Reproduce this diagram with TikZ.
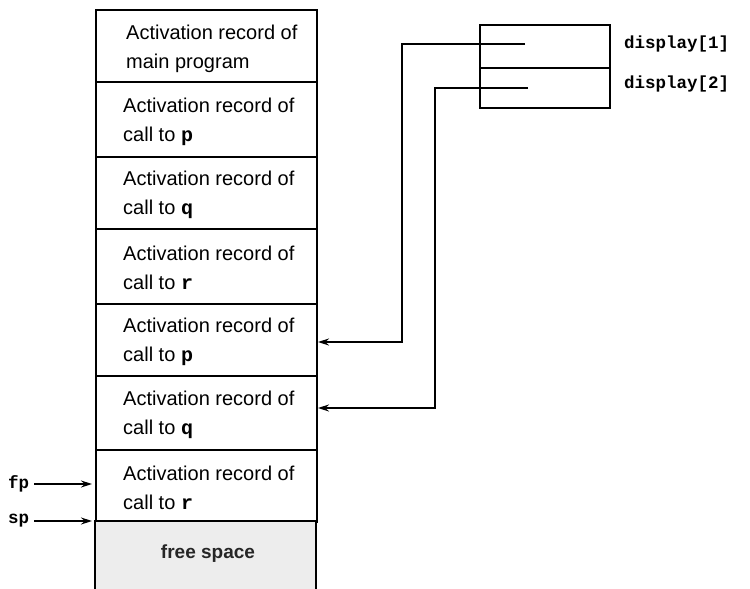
\documentclass[tikz,border=0pt]{standalone}
\usepackage{fontspec}
\setmainfont{Liberation Sans}
\setmonofont{Liberation Mono}
\usetikzlibrary{arrows.meta}
\begin{document}
\begin{tikzpicture}[x=1pt,y=-1pt,
  cell/.style={draw, line width=1.5pt, minimum width=221pt, inner sep=0pt, anchor=north west},
  dcell/.style={draw, line width=1.5pt, minimum width=130pt, inner sep=0pt, anchor=north west},
  rec/.style={anchor=west, align=left, inner sep=0pt, font=\fontsize{20}{29}\selectfont},
  code/.style={anchor=west, inner sep=0pt, font=\fontsize{17.5}{20}\selectfont\ttfamily\bfseries},
  arr/.style={line width=1.4pt, -{Stealth[length=11pt,width=7pt]}},
  conn/.style={line width=1.4pt}
]
\useasboundingbox (0,0) rectangle (750,589);
% stack cells
\node[cell, minimum height=72pt] (c1) at (95,9) {};
\node[cell, minimum height=75pt] (c2) at (95,81) {};
\node[cell, minimum height=72pt] (c3) at (95,156) {};
\node[cell, minimum height=75pt] (c4) at (95,228) {};
\node[cell, minimum height=72pt] (c5) at (95,303) {};
\node[cell, minimum height=74pt] (c6) at (95,375) {};
\node[cell, minimum height=72pt] (c7) at (95,449) {};
% free space (open at bottom)
\fill[gray!14] (95,521) rectangle (316,589);
\draw[line width=1.5pt] (95,589) -- (95,521) -- (316,521) -- (316,589);
\node[inner sep=0pt, font=\fontsize{19}{22}\selectfont\bfseries, text=black!85] (fs) at (208,554) {free space};
% texts
\node[rec] (t1) at (126,49) {Activation record of\\main program};
\node[rec] (t2) at (123,122) {Activation record of\\call to {\ttfamily\bfseries p}};
\node[rec] (t3) at (123,195) {Activation record of\\call to {\ttfamily\bfseries q}};
\node[rec] (t4) at (123,268) {Activation record of\\call to {\ttfamily\bfseries r}};
\node[rec] (t5) at (123,342) {Activation record of\\call to {\ttfamily\bfseries p}};
\node[rec] (t6) at (123,415) {Activation record of\\call to {\ttfamily\bfseries q}};
\node[rec] (t7) at (123,488) {Activation record of\\call to {\ttfamily\bfseries r}};
% display
\node[dcell, minimum height=43pt] (d1) at (479,24) {};
\node[dcell, minimum height=40pt] (d2) at (479,67) {};
\node[code] (l1) at (624,44) {display[1]};
\node[code] (l2) at (624,84) {display[2]};
% pointers from display
\coordinate (s1) at (525,44);
\coordinate (s2) at (528,88);
\coordinate (b1) at (402,44);
\coordinate (b2) at (435,88);
\coordinate (e1) at (318,342);
\coordinate (e2) at (318,408);
\draw[arr] (s1) -- (b1) |- (e1);
\draw[arr] (s2) -- (b2) |- (e2);
% fp, sp
\node[code] (fp) at (8,484) {fp};
\node[code] (sp) at (8,521) {sp};
\coordinate (fpt) at (92,484);
\coordinate (spt) at (92,521);
\draw[arr] (fp.east) ++(5,0) coordinate (fps) -- (fpt);
\draw[arr] (sp.east) ++(5,0) coordinate (sps) -- (spt);
\end{tikzpicture}
\end{document}
